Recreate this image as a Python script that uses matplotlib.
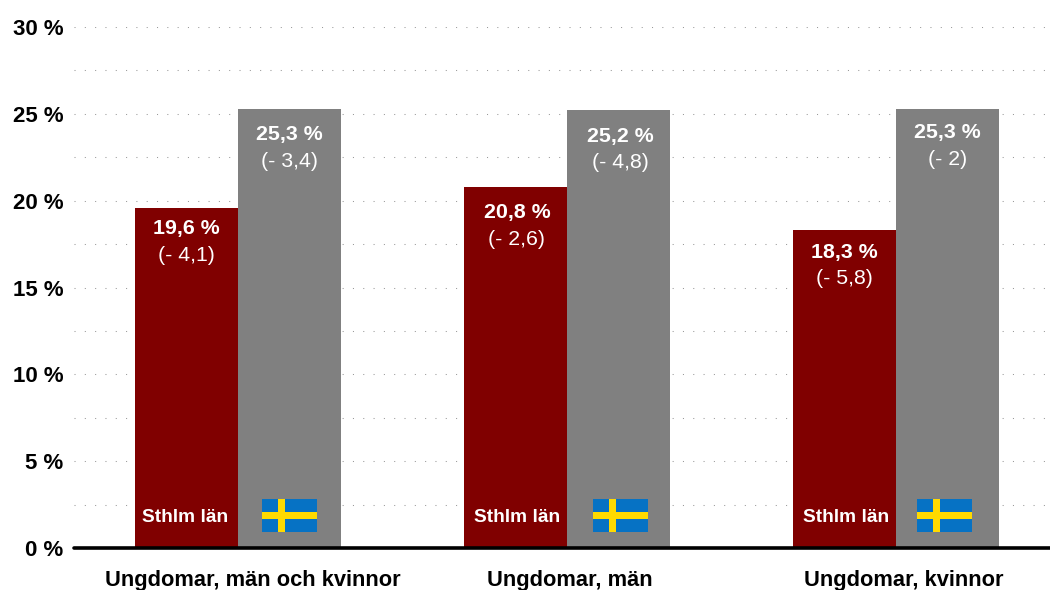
import matplotlib
matplotlib.use("Agg")
import matplotlib.pyplot as plt
from matplotlib.patches import Rectangle
from matplotlib.transforms import ScaledTranslation

plt.rcParams['font.family'] = ['Liberation Sans', 'DejaVu Sans']

categories = ["Ungdomar, män och kvinnor", "Ungdomar, män", "Ungdomar, kvinnor"]
stockholm = [19.6, 20.8, 18.3]
sweden = [25.3, 25.2, 25.3]
stockholm_labels = ["19,6 %", "20,8 %", "18,3 %"]
sweden_labels = ["25,3 %", "25,2 %", "25,3 %"]
stockholm_diff = ["(- 4,1)", "(- 2,6)", "(- 5,8)"]
sweden_diff = ["(- 3,4)", "(- 4,8)", "(- 2)"]
yticks = [0, 5, 10, 15, 20, 25, 30]
ytick_labels = ["0 %", "5 %", "10 %", "15 %", "20 %", "25 %", "30 %"]
minor_ticks = [2.5, 7.5, 12.5, 17.5, 22.5, 27.5]
region_name = "Sthlm län"

RED = "#800000"
GREY = "#808080"
BAR_W = 0.3135
red_off = [21, 26, 22]
grey_off = [26, 26, 24]
text_dx = [0, 1.5, 0]
region_dx = [-1.5, 1.5, 2]
cat_dx = [15, 3, 7.5]
flag_dx = [24, 25.5, 21]
PX = 0.72  # points per pixel at 100 dpi

fig = plt.figure(figsize=(10.5, 5.9), dpi=100, facecolor="white")
ax = fig.add_axes([74/1050, 1 - 548/590, 976/1050, 521/590])
ax.set_xlim(-0.4985, 2.468)
ax.set_ylim(0, 30)
for s in ("top", "right", "left", "bottom"):
    ax.spines[s].set_visible(False)
ax.set_axisbelow(True)

dots = dict(color="#999999", linewidth=0.75, linestyle=(0, (1.0, 8.9)))
for v in yticks[1:] + minor_ticks:
    ax.axhline(v, zorder=1, **dots)

x = list(range(len(categories)))
ax.bar([i - BAR_W / 2 for i in x], stockholm, BAR_W, color=RED, zorder=2, linewidth=0)
ax.bar([i + BAR_W / 2 for i in x], sweden, BAR_W, color=GREY, zorder=2, linewidth=0)

ax.plot([0, 1], [0, 0], transform=ax.transAxes, color="black", lw=2.6,
        solid_capstyle="round", clip_on=False, zorder=5)

ax.set_yticks(yticks, ytick_labels, fontsize=16, fontweight="bold")
ax.set_xticks(x, categories, fontsize=15.75, fontweight="bold")
ax.tick_params(length=0)
ax.tick_params(axis="y", pad=7.5)
ax.tick_params(axis="x", pad=16)
for lab, dx in zip(ax.get_xticklabels(), cat_dx):
    lab.set_transform(lab.get_transform() + ScaledTranslation(dx / 100, 0, fig.dpi_scale_trans))


def put(xv, yv, dx_px, dy_px, s, **kw):
    ax.annotate(s, (xv, yv), xytext=(dx_px * PX, -dy_px * PX), textcoords="offset points",
                ha="center", va="center", color="white", zorder=6, **kw)


for i in x:
    xr, xg = i - BAR_W / 2, i + BAR_W / 2
    put(xr, stockholm[i], text_dx[i], red_off[i], stockholm_labels[i], fontsize=15.4, fontweight="bold")
    put(xr, stockholm[i], text_dx[i], red_off[i] + 26.5, stockholm_diff[i], fontsize=15.3)
    put(xg, sweden[i], text_dx[i], grey_off[i], sweden_labels[i], fontsize=15.4, fontweight="bold")
    put(xg, sweden[i], text_dx[i], grey_off[i] + 26.5, sweden_diff[i], fontsize=15.3)
    put(xr, 0, region_dx[i], -31, region_name, fontsize=13.8, fontweight="bold")

    # flag, sized in pixels and anchored to the grey bar
    base = ax.transData.transform((i, 0))
    fx, fy = base[0] + flag_dx[i], base[1] + 16
    W, H = 55, 33
    for (a, b, c, d, col) in [(0, 0, W, H, "#0672C4"),
                              (16, 0, 7, H, "#FFDA00"),
                              (0, 13, W, 7, "#FFDA00")]:
        ax.add_patch(Rectangle((fx + a, fy + b), c, d, transform=None,
                               facecolor=col, edgecolor="none", zorder=6))

fig.savefig("out.png", dpi=100, facecolor="white")
